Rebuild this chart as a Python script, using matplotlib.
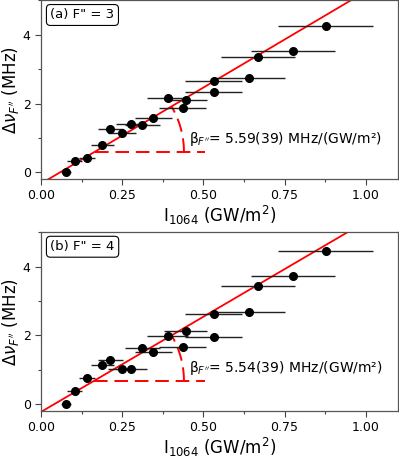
import numpy as np
import matplotlib
matplotlib.use("Agg")
import matplotlib.pyplot as plt
from matplotlib.ticker import MultipleLocator

# intensity of the 1064 nm beam (GW/m^2) and its uncertainty, same for both panels
intensity = [0.076, 0.104, 0.142, 0.189, 0.213, 0.248, 0.278, 0.312, 0.345, 0.390,
             0.445, 0.436, 0.532, 0.532, 0.641, 0.667, 0.776, 0.877]
intensity_err = [0.015, 0.023, 0.025, 0.035, 0.038, 0.043, 0.047, 0.053, 0.057, 0.064,
                 0.065, 0.072, 0.088, 0.088, 0.111, 0.114, 0.129, 0.146]

# light shift (MHz) for F'' = 3 and F'' = 4
shift_f3 = [0.00, 0.34, 0.41, 0.80, 1.26, 1.14, 1.41, 1.37, 1.57, 2.16,
            2.10, 1.87, 2.66, 2.33, 2.74, 3.35, 3.54, 4.27]
shift_f4 = [0.00, 0.38, 0.75, 1.12, 1.29, 1.03, 1.03, 1.64, 1.51, 1.98,
            2.13, 1.67, 2.61, 1.94, 2.67, 3.42, 3.72, 4.44]

# linear fits: slope (MHz/(GW/m^2)), intercept (MHz)
fit_slope = [5.59, 5.54]
fit_offset = [-0.33, -0.23]
fit_labels = ["5.59(39)", "5.54(39)"]
panel_labels = ['(a) F" = 3', '(b) F" = 4']
guide_level = [0.59, 0.67]

fig = plt.figure(figsize=(3.99, 4.58), dpi=100)
ax_top = fig.add_axes([0.103, 0.609, 0.895, 0.390])
ax_bot = fig.add_axes([0.103, 0.103, 0.895, 0.390])

xlim = (0.0, 1.1)
ylim = (-0.2, 5.0)

for ax, shift, slope, offset, flabel, plabel, level in zip(
        [ax_top, ax_bot], [shift_f3, shift_f4], fit_slope, fit_offset,
        fit_labels, panel_labels, guide_level):
    ax.set_xlim(*xlim)
    ax.set_ylim(*ylim)

    xs = np.array(xlim)
    ax.plot(xs, slope * xs + offset, color="red", lw=1.3, zorder=2)

    ax.errorbar(intensity, shift, xerr=intensity_err, fmt="o", color="black",
                ecolor="#222222", elinewidth=1.0, capsize=0, markersize=5.5, zorder=3)

    # dashed angle guide: horizontal line from the fit plus a circular arc
    x0 = (level - offset) / slope
    ax.plot([x0, 0.505], [level, level], color="red", lw=1.4,
            dashes=(7, 3.5), zorder=1)
    # arc that looks circular on screen
    fig.canvas.draw()
    bb = ax.get_window_extent()
    sx = bb.width / (xlim[1] - xlim[0])
    sy = bb.height / (ylim[1] - ylim[0])
    r_px = (0.44 - x0) * sx
    ang = np.arctan(slope * sy / sx)
    t = np.linspace(0, ang, 60)
    ax.plot(x0 + r_px * np.cos(t) / sx, level + r_px * np.sin(t) / sy,
            color="red", lw=1.4, dashes=(7, 3.5), zorder=1)

    ax.text(0.456, level + 0.37, "β$_{F''}$= " + flabel + " MHz/(GW/m²)",
            fontsize=10, va="center", ha="left")

    ax.text(0.026, 0.955, plabel, transform=ax.transAxes, fontsize=9.5,
            va="top", ha="left",
            bbox=dict(boxstyle="round,pad=0.3", fc="white", ec="black", lw=0.8))

    ax.xaxis.set_major_locator(MultipleLocator(0.25))
    ax.xaxis.set_minor_locator(MultipleLocator(0.125))
    ax.yaxis.set_major_locator(MultipleLocator(2))
    ax.yaxis.set_minor_locator(MultipleLocator(1))
    ax.xaxis.set_major_formatter(plt.FormatStrFormatter("%.2f"))
    ax.tick_params(which="major", direction="out", length=4, width=0.8,
                   labelsize=9, color="#444444")
    ax.tick_params(which="minor", direction="out", length=2.5, width=0.8,
                   color="#444444")
    for sp in ax.spines.values():
        sp.set_color("#555555")
        sp.set_linewidth(0.9)

    ax.set_xlabel(r"I$_{1064}$ (GW/m$^2$)", fontsize=12, labelpad=1)
    ax.set_ylabel(r"$\Delta\nu_{F''}$ (MHz)", fontsize=12, labelpad=1)

fig.savefig("out.png", dpi=100)
